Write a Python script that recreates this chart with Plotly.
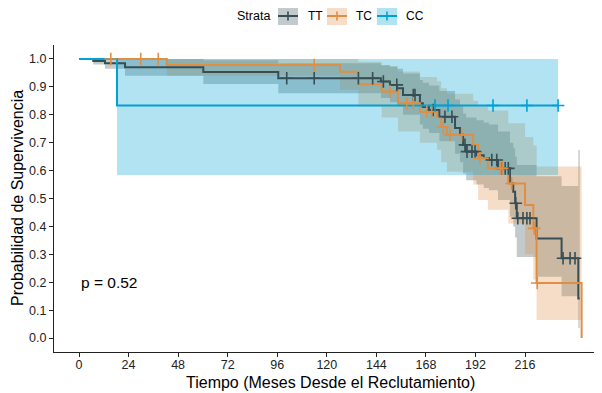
import plotly.graph_objects as go

# ---------------- data ----------------
strata = ["TT", "TC", "CC"]
colors = {"TT": "#374E55", "TC": "#DF8F44", "CC": "#00A1D5"}
bands = {"TT": "rgba(55,78,85,0.3)", "TC": "rgba(223,143,68,0.3)", "CC": "rgba(0,161,213,0.3)"}

tt_time = [0, 6.9, 12.6, 22.3, 60.2, 96.5, 146.2, 150.6, 154.0, 156.9, 165.1, 166.5, 169.5, 174.5,
           182.1, 184.5, 186.0, 187.5, 192.5, 196.0, 198.5, 202.9, 208.7, 210.3, 211.2, 212.0,
           221.6, 233.7, 241.8]
tt_surv = [1, 0.993, 0.985, 0.970, 0.953, 0.931, 0.919, 0.907, 0.895, 0.871, 0.841, 0.828, 0.817, 0.793,
           0.753, 0.728, 0.692, 0.668, 0.655, 0.645, 0.638, 0.608, 0.555, 0.524, 0.483, 0.429,
           0.357, 0.286, 0.142]
tt_lower = [1, 0.980, 0.965, 0.940, 0.910, 0.877, 0.860, 0.845, 0.830, 0.800, 0.765, 0.750, 0.735, 0.705,
            0.660, 0.630, 0.590, 0.565, 0.550, 0.538, 0.530, 0.495, 0.435, 0.400, 0.360, 0.290,
            0.220, 0.150, 0.036]
tt_upper = [1, 1, 1, 1, 0.995, 0.985, 0.978, 0.972, 0.965, 0.948, 0.925, 0.915, 0.905, 0.885,
            0.855, 0.835, 0.805, 0.790, 0.780, 0.772, 0.765, 0.740, 0.700, 0.680, 0.650, 0.620,
            0.580, 0.545, 0.674]
tt_end = 242.5
tt_censor = [100.6, 113.9, 135.3, 142.2, 147.4, 153.9, 161.9, 162.7, 171.5, 177.2, 180.6, 186.9,
             187.9, 190.3, 191.8, 199.9, 202.3, 204.8, 206.4, 207.9, 211.5, 212.5, 215.0, 216.9,
             218.4, 234.4, 237.8, 240.2]

tc_time = [0, 42.5, 126.4, 135.3, 146.6, 154.5, 165.1, 173.4, 175.4, 178.2, 190.9, 193.3, 198.0,
           207.9, 216.0, 220.0, 221.6, 243.4]
tc_surv = [1, 0.978, 0.954, 0.909, 0.883, 0.841, 0.811, 0.792, 0.756, 0.728, 0.692, 0.644, 0.608,
           0.554, 0.477, 0.393, 0.197, 0.0]
tc_lower = [1, 0.940, 0.890, 0.830, 0.790, 0.740, 0.700, 0.675, 0.630, 0.596, 0.550, 0.495, 0.460,
            0.410, 0.300, 0.210, 0.065]
tc_upper = [1, 1, 1, 0.990, 0.975, 0.955, 0.935, 0.920, 0.895, 0.875, 0.850, 0.835, 0.815,
            0.770, 0.720, 0.690, 0.615]
tc_end = 243.4
tc_censor = [15.4, 29.9, 38.4, 113.9, 150.6, 158.7, 161.9, 168.4, 170.8, 176.4, 179.7, 185.3,
             194.2, 203.9, 204.9, 209.5, 220.4, 221.9]

cc_time = [0, 18.4]
cc_surv = [1, 0.833]
cc_lower = [1, 0.584]
cc_upper = [1, 1]
cc_end = 232.0
cc_censor = [172.4, 178.7, 200.5, 216.9, 232.0]

x_ticks = [0, 24, 48, 72, 96, 120, 144, 168, 192, 216]
y_ticks = [0.0, 0.1, 0.2, 0.3, 0.4, 0.5, 0.6, 0.7, 0.8, 0.9, 1.0]
p_text = "p = 0.52"

series = {
    "TT": (tt_time, tt_surv, tt_lower, tt_upper, tt_end, tt_censor),
    "TC": (tc_time, tc_surv, tc_lower, tc_upper, tc_end, tc_censor),
    "CC": (cc_time, cc_surv, cc_lower, cc_upper, cc_end, cc_censor),
}

# ---------------- layout geometry ----------------
# The page body has an 8px default margin, so the figure is drawn 8px smaller
# and positions below are given in window pixels.
OFF = 8
WIN_W, WIN_H = 602, 393
W, H = WIN_W - OFF, WIN_H - OFF
PL, PR, PT, PB = 54, 602, 45, 352          # plot area in window pixels
L, R, T, B = PL - OFF, (W + OFF) - PR, PT - OFF, (H + OFF) - PB
X0_PX, PX_PER_MONTH = 79.0, 2.065
x_range = [(PL - X0_PX) / PX_PER_MONTH, (PR - X0_PX) / PX_PER_MONTH]
y_range = [-0.05, 1.05]
FONT = "Liberation Sans, Arial, sans-serif"


def pxx(px):
    return (px - PL) / (PR - PL)


def pxy(py):
    return (PB - py) / (PB - PT)


def step_value(times, vals, t):
    v = vals[0]
    for ti, vi in zip(times, vals):
        if ti <= t:
            v = vi
    return v


fig = go.Figure()

# confidence bands
for s in strata:
    tm, sv, lo, up, end, cen = series[s]
    n = len(lo)
    bx = list(tm[:n]) + [end]
    blo = list(lo) + [lo[-1]]
    bup = list(up) + [up[-1]]
    fig.add_trace(go.Scatter(x=bx, y=blo, mode="lines", line=dict(width=0, shape="hv"),
                             hoverinfo="skip", showlegend=False))
    fig.add_trace(go.Scatter(x=bx, y=bup, mode="lines", line=dict(width=0, shape="hv"),
                             fill="tonexty", fillcolor=bands[s], hoverinfo="skip", showlegend=False))

# survival curves
for s in strata:
    tm, sv, lo, up, end, cen = series[s]
    lx = list(tm) + ([end] if end > tm[-1] else [])
    ly = list(sv) + ([sv[-1]] if end > tm[-1] else [])
    fig.add_trace(go.Scatter(x=lx, y=ly, mode="lines", line=dict(color=colors[s], width=2, shape="hv"),
                             showlegend=False, name=s))

# censor marks
for s in strata:
    tm, sv, lo, up, end, cen = series[s]
    cy = [step_value(tm, sv, c) for c in cen]
    fig.add_trace(go.Scatter(x=cen, y=cy, mode="markers",
                             marker=dict(symbol="cross-thin-open", size=9, color=colors[s],
                                         line=dict(color=colors[s], width=1.6)),
                             showlegend=False))

annotations = [
    dict(x=0, y=0.2, xref="x", yref="y", text=p_text, showarrow=False, xanchor="left",
         yanchor="middle", font=dict(size=15.5, color="black", family=FONT)),
    dict(x=pxx(330), y=pxy(382), xref="paper", yref="paper", text="Tiempo (Meses Desde el Reclutamiento)",
         showarrow=False, xanchor="center", yanchor="middle", font=dict(size=16, color="black", family=FONT)),
    dict(x=pxx(17), y=pxy(198), xref="paper", yref="paper", text="Probabilidad de Supervivencia",
         showarrow=False, textangle=-90, xanchor="center", yanchor="middle",
         font=dict(size=16, color="black", family=FONT)),
    dict(x=pxx(272), y=pxy(16), xref="paper", yref="paper", text="Strata", showarrow=False,
         xanchor="right", yanchor="middle", font=dict(size=12.5, color="black", family=FONT)),
]

shapes = []
key_left = {"TT": 278, "TC": 327, "CC": 377}
label_left = {"TT": 306, "TC": 354, "CC": 404}
for s in strata:
    x0, x1 = key_left[s], key_left[s] + 20
    y0, y1 = 7, 25
    cx, cy_ = (x0 + x1) / 2, (y0 + y1) / 2
    shapes.append(dict(type="rect", xref="paper", yref="paper", x0=pxx(x0), x1=pxx(x1), y0=pxy(y1), y1=pxy(y0),
                       fillcolor=bands[s], line=dict(width=0), layer="above"))
    shapes.append(dict(type="line", xref="paper", yref="paper", x0=pxx(x0), x1=pxx(x1), y0=pxy(cy_), y1=pxy(cy_),
                       line=dict(color=colors[s], width=2), layer="above"))
    shapes.append(dict(type="line", xref="paper", yref="paper", x0=pxx(cx), x1=pxx(cx), y0=pxy(cy_ - 4.5),
                       y1=pxy(cy_ + 4.5), line=dict(color=colors[s], width=1.6), layer="above"))
    annotations.append(dict(x=pxx(label_left[s]), y=pxy(16), xref="paper", yref="paper", text=s,
                            showarrow=False, xanchor="left", yanchor="middle",
                            font=dict(size=12, color="black", family=FONT)))

fig.update_layout(
    width=W, height=H,
    margin=dict(l=L, r=R, t=T, b=B, pad=0),
    paper_bgcolor="white", plot_bgcolor="white",
    showlegend=False,
    font=dict(family=FONT, color="black"),
    annotations=annotations,
    shapes=shapes,
    xaxis=dict(range=x_range, tickvals=x_ticks, ticktext=[str(v) for v in x_ticks],
               showline=True, linecolor="#222222", linewidth=1.1, ticks="outside", ticklen=4,
               tickcolor="#222222", tickwidth=1, showgrid=False, zeroline=False,
               ticklabelstandoff=-3,
               tickfont=dict(size=12.5, color="#222222", family=FONT)),
    yaxis=dict(range=y_range, tickvals=y_ticks, ticktext=[f"{v:.1f}" for v in y_ticks],
               showline=True, linecolor="#222222", linewidth=1.1, ticks="outside", ticklen=4,
               tickcolor="#222222", tickwidth=1, showgrid=False, zeroline=False,
               tickfont=dict(size=12.5, color="#222222", family=FONT)),
)

fig.write_html("out.html")
